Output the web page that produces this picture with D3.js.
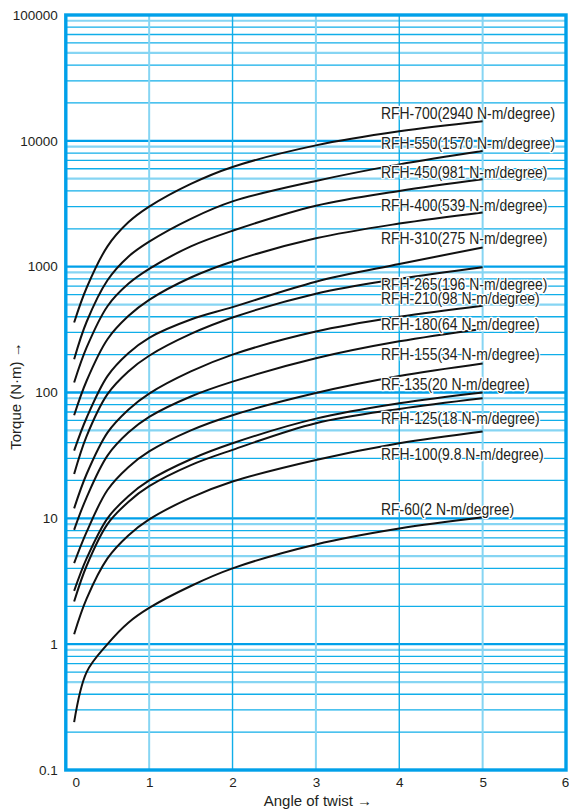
<!DOCTYPE html>
<html>
<head>
<meta charset="utf-8">
<script src="https://cdn.jsdelivr.net/npm/d3@7"></script>
<style>
  html, body { margin: 0; padding: 0; background: #fff; }
  svg { display: block; font-family: "Liberation Sans", Arial, Helvetica, sans-serif; }
</style>
</head>
<body>
<svg id="chart" width="569" height="812"></svg>
<script>
// Angle of twist (degrees) at which each torque curve is sampled
const angles = [0.1, 0.25, 0.5, 0.75, 1, 1.5, 2, 3, 4, 5];

// Torque (N·m) for each model at the angles above
const rfh700 = [360, 680, 1450, 2250, 3000, 4550, 6200, 9200, 11900, 14300];
const rfh550 = [184, 365, 780, 1200, 1580, 2400, 3300, 4800, 6500, 8300];
const rfh450 = [120, 228, 485, 730, 960, 1450, 1930, 3050, 4000, 4950];
const rfh400 = [66, 124, 265, 405, 545, 820, 1100, 1680, 2200, 2700];
const rfh310 = [34.5, 63, 135, 205, 272, 380, 477, 760, 1050, 1420];
const rfh265 = [22.5, 45, 97, 147, 196, 292, 394, 610, 800, 990];
const rfh210 = [12, 22.5, 48, 73, 98, 147, 200, 305, 400, 490];
const rfh180 = [8.1, 14.7, 31.5, 48, 64, 93, 122, 187, 255, 320];
const rfh155 = [4.4, 7.8, 16.8, 25.5, 34, 50, 66, 99, 135, 170];
const rf135  = [2.65, 4.8, 10, 15, 20, 29.5, 39.5, 62, 82, 100];
const rfh125 = [2.18, 4.2, 9, 13.5, 18, 26.5, 35, 57, 74, 90];
const rfh100 = [1.2, 2.3, 4.8, 7.3, 9.8, 14.6, 19.6, 29.1, 39.5, 49];
const rf60   = [0.24, 0.6, 1.0, 1.48, 1.94, 2.9, 4.0, 6.2, 8.3, 10.2];

const models = ["RFH-700", "RFH-550", "RFH-450", "RFH-400", "RFH-310", "RFH-265",
                "RFH-210", "RFH-180", "RFH-155", "RF-135", "RFH-125", "RFH-100", "RF-60"];
const stiffness = ["2940", "1570", "981", "539", "275", "196", "98", "64", "34", "20", "18", "9.8", "2"];
const seriesValues = [rfh700, rfh550, rfh450, rfh400, rfh310, rfh265,
                      rfh210, rfh180, rfh155, rf135, rfh125, rfh100, rf60];

// Where each model's caption sits, in chart units
const labelAngle = 3.78;
const labelTorque = [16700, 9550, 5670, 3100, 1680, 730, 560, 351, 203, 117, 62.8, 32.5, 11.9];

// Axis ticks
const xTicks = [0, 1, 2, 3, 4, 5, 6];
const yTicks = [0.1, 1, 10, 100, 1000, 10000, 100000];
const yTickLabels = ["0.1", "1", "10", "100", "1000", "10000", "100000"];

const xTitle = "Angle of twist \u2192";
const yTitle = "Torque (N\u00b7m) \u2192";

// ---- layout ----
const plot = { left: 65.8, right: 566, top: 15, bottom: 770 };
const blue = "#00a0e9";
const gridDark = "#10aee9";
const gridLight = "#86d5f3";

const svg = d3.select("#chart");
svg.append("rect").attr("width", 569).attr("height", 812).attr("fill", "#fff");

const x = d3.scaleLinear().domain([0, 6]).range([plot.left, plot.right]);
const y = d3.scaleLog().domain([0.1, 100000]).range([plot.bottom, plot.top]);

// ---- horizontal grid: 2..9 within every decade, plus decade lines ----
const grid = svg.append("g");
const decades = [0.1, 1, 10, 100, 1000, 10000];
decades.forEach(d => {
  for (let m = 2; m <= 9; m++) {
    const v = d * m;
    const light = (m === 5 || m === 9);
    grid.append("line")
      .attr("x1", plot.left).attr("x2", plot.right)
      .attr("y1", y(v)).attr("y2", y(v))
      .attr("stroke", light ? gridLight : gridDark)
      .attr("stroke-width", light ? 2.2 : 1.3);
  }
});
yTicks.slice(1, -1).forEach(v => {
  grid.append("line")
    .attr("x1", plot.left).attr("x2", plot.right)
    .attr("y1", y(v)).attr("y2", y(v))
    .attr("stroke", blue)
    .attr("stroke-width", 2.4);
});

// ---- vertical grid ----
xTicks.slice(1, -1).forEach(v => {
  const light = v % 2 === 1;
  grid.append("line")
    .attr("x1", x(v)).attr("x2", x(v))
    .attr("y1", plot.top).attr("y2", plot.bottom)
    .attr("stroke", light ? gridLight : gridDark)
    .attr("stroke-width", light ? 2 : 1.4);
});

// ---- frame ----
svg.append("rect")
  .attr("x", plot.left).attr("y", plot.top)
  .attr("width", plot.right - plot.left).attr("height", plot.bottom - plot.top)
  .attr("fill", "none").attr("stroke", blue).attr("stroke-width", 3.4);

// ---- axes ----
const yAxis = d3.axisLeft(y)
  .tickValues(yTicks)
  .tickFormat((d, i) => yTickLabels[i])
  .tickSize(0).tickPadding(0);
const gy = svg.append("g").attr("transform", `translate(${plot.left - 8},0)`).call(yAxis);
gy.select(".domain").remove();
gy.selectAll("text")
  .attr("font-size", 13.5).attr("fill", "#231f20")
  .attr("font-family", "Liberation Sans, Arial, sans-serif");

const xAxis = d3.axisBottom(x)
  .tickValues(xTicks)
  .tickFormat(d3.format("d"))
  .tickSize(0).tickPadding(0);
const gx = svg.append("g").attr("transform", `translate(0,${plot.bottom + 12})`).call(xAxis);
gx.select(".domain").remove();
gx.selectAll("text")
  .attr("y", 0)
  .attr("dy", "0.35em")
  .attr("font-size", 13.5).attr("fill", "#231f20")
  .attr("font-family", "Liberation Sans, Arial, sans-serif")
  .attr("dx", d => d === 0 ? 10 : (d === 6 ? -1 : 0));

// ---- axis titles ----
svg.append("text")
  .attr("x", (plot.left + plot.right) / 2 + 2).attr("y", 801)
  .attr("dy", "0.35em")
  .attr("text-anchor", "middle")
  .attr("font-size", 15).attr("fill", "#231f20")
  .text(xTitle);

svg.append("text")
  .attr("transform", "translate(16,396) rotate(-90)")
  .attr("dy", "0.35em")
  .attr("text-anchor", "middle")
  .attr("font-size", 15).attr("fill", "#231f20")
  .text(yTitle);

// ---- torque curves ----
const line = d3.line()
  .x((d, i) => x(angles[i]))
  .y(d => y(d))
  .curve(d3.curveCatmullRom.alpha(0.5));

svg.append("g")
  .selectAll("path")
  .data(seriesValues)
  .join("path")
  .attr("d", line)
  .attr("fill", "none")
  .attr("stroke", "#111")
  .attr("stroke-width", 2)
  .attr("stroke-linejoin", "round");

// ---- model captions ----
svg.append("g")
  .selectAll("text")
  .data(models)
  .join("text")
  .attr("transform", (d, i) => `translate(${x(labelAngle)},${y(labelTorque[i])}) scale(0.845,1)`)
  .attr("dy", "0.36em")
  .attr("font-size", 16.5)
  .attr("fill", "#231f20")
  .attr("stroke", "#fff")
  .attr("stroke-width", 2.6)
  .attr("stroke-linejoin", "round")
  .attr("paint-order", "stroke")
  .text((d, i) => `${d}(${stiffness[i]} N-m/degree)`);
</script>
</body>
</html>
